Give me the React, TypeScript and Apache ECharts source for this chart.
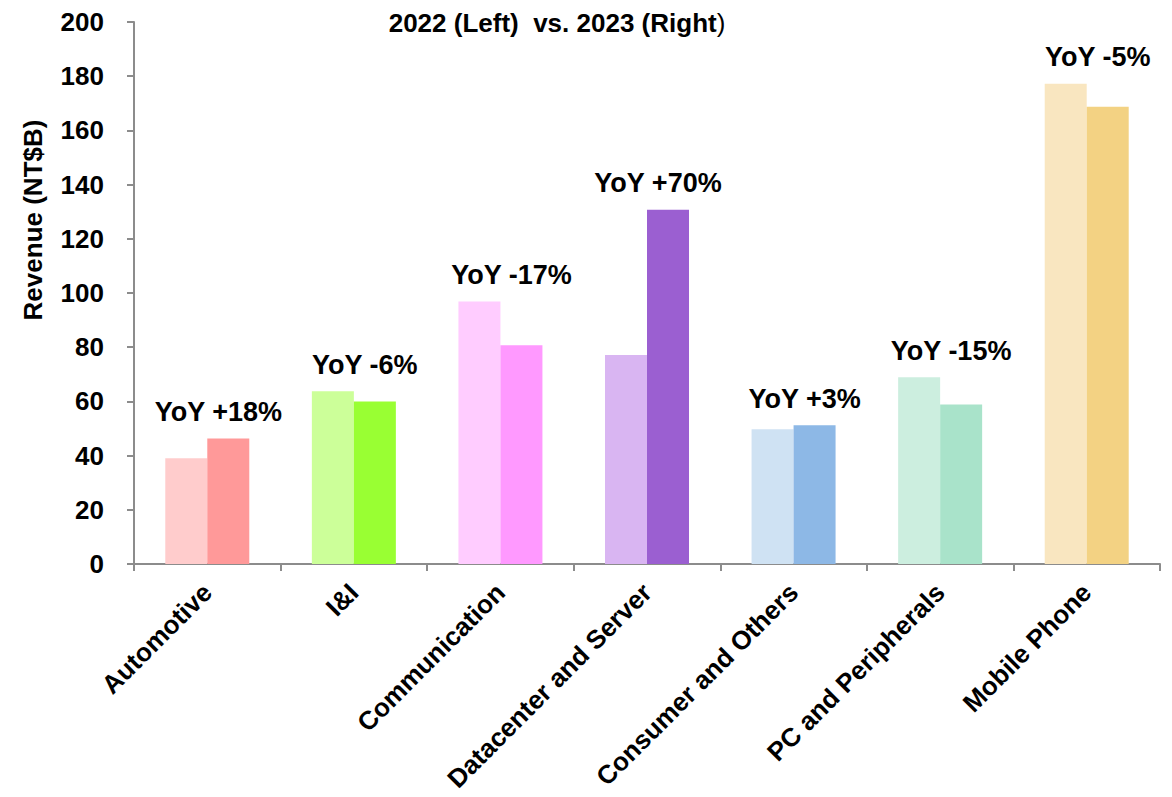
import React, { useEffect, useRef } from "react";
import * as echarts from "echarts";

const categories = [
  "Automotive",
  "I&I",
  "Communication",
  "Datacenter and Server",
  "Consumer and Others",
  "PC and Peripherals",
  "Mobile Phone",
];
const revenue2022 = [39, 63.7, 96.9, 77.1, 49.7, 68.9, 177.2];
const revenue2023 = [46.3, 60, 80.7, 130.7, 51.2, 58.9, 168.7];
const yoyLabels = ["YoY +18%", "YoY -6%", "YoY -17%", "YoY +70%", "YoY +3%", "YoY -15%", "YoY -5%"];
const colors2022 = ["#FFCCCC", "#CCFF99", "#FFCCFF", "#D9B5F2", "#CFE2F3", "#CCEEDF", "#F9E6C0"];
const colors2023 = ["#FF9999", "#99FF33", "#FF99FF", "#9B5FD1", "#8DB8E6", "#A9E3CA", "#F3D283"];
const yTicks = { min: 0, max: 200, interval: 20 };

const FONT = "'Liberation Sans', Arial, sans-serif";

export default function App() {
  const ref = useRef<HTMLDivElement>(null);
  useEffect(() => {
    if (!ref.current) return;
    const chart = echarts.init(ref.current, undefined, { renderer: "svg" });
    const maxVals = revenue2022.map((v, i) => Math.max(v, revenue2023[i]));
    chart.setOption({
      animation: false,
      backgroundColor: "#ffffff",
      textStyle: { fontFamily: FONT },
      grid: { left: 134, right: 12, top: 22, bottom: 233, containLabel: false },
      graphic: [
        {
          type: "text",
          x: 557,
          y: 23,
          style: {
            text: "{b|2022 (Left)  vs. 2023 (Right}{n|)}",
            align: "center",
            verticalAlign: "middle",
            rich: {
              b: { fontFamily: FONT, fontWeight: "bold", fontSize: 26, fill: "#000" },
              n: { fontFamily: FONT, fontWeight: "normal", fontSize: 26, fill: "#000" },
            },
          },
        },
        {
          type: "text",
          x: 33,
          y: 220,
          rotation: Math.PI / 2,
          style: {
            text: "Revenue (NT$B)",
            align: "center",
            verticalAlign: "middle",
            fontFamily: FONT,
            fontWeight: "bold",
            fontSize: 26,
            fill: "#000",
          },
        },
      ],
      xAxis: {
        type: "category",
        data: categories,
        boundaryGap: true,
        axisLine: { lineStyle: { color: "#8c8c8c", width: 2 } },
        axisTick: { show: true, interval: 0, length: 7, lineStyle: { color: "#8c8c8c", width: 2 } },
        axisLabel: {
          interval: 0,
          rotate: 45,
          margin: 24,
          color: "#000",
          fontFamily: FONT,
          fontWeight: "bold",
          fontSize: 26,
        },
        splitLine: { show: false },
      },
      yAxis: {
        type: "value",
        min: yTicks.min,
        max: yTicks.max,
        interval: yTicks.interval,
        axisLine: { show: true, lineStyle: { color: "#8c8c8c", width: 2 } },
        axisTick: { show: true, length: 7, lineStyle: { color: "#8c8c8c", width: 2 } },
        axisLabel: {
          margin: 30,
          color: "#000",
          fontFamily: FONT,
          fontWeight: "bold",
          fontSize: 26,
        },
        splitLine: { show: false },
      },
      series: [
        {
          name: "2022",
          type: "bar",
          barWidth: 42,
          barGap: "0%",
          data: revenue2022.map((v, i) => ({ value: v, itemStyle: { color: colors2022[i] } })),
        },
        {
          name: "2023",
          type: "bar",
          barWidth: 42,
          barGap: "0%",
          data: revenue2023.map((v, i) => ({ value: v, itemStyle: { color: colors2023[i] } })),
        },
        {
          name: "YoY",
          type: "scatter",
          symbolSize: 0,
          silent: true,
          itemStyle: { opacity: 1 },
          data: maxVals,
          label: {
            show: true,
            position: "top",
            distance: 13,
            offset: [11, 0],
            opacity: 1,
            formatter: (p: any) => yoyLabels[p.dataIndex],
            color: "#000",
            fontFamily: FONT,
            fontWeight: "bold",
            fontSize: 27,
          },
        },
      ],
    });
    return () => chart.dispose();
  }, []);
  return <div ref={ref} style={{ width: 1172, height: 797, position: "absolute", left: 0, top: 0 }} />;
}
